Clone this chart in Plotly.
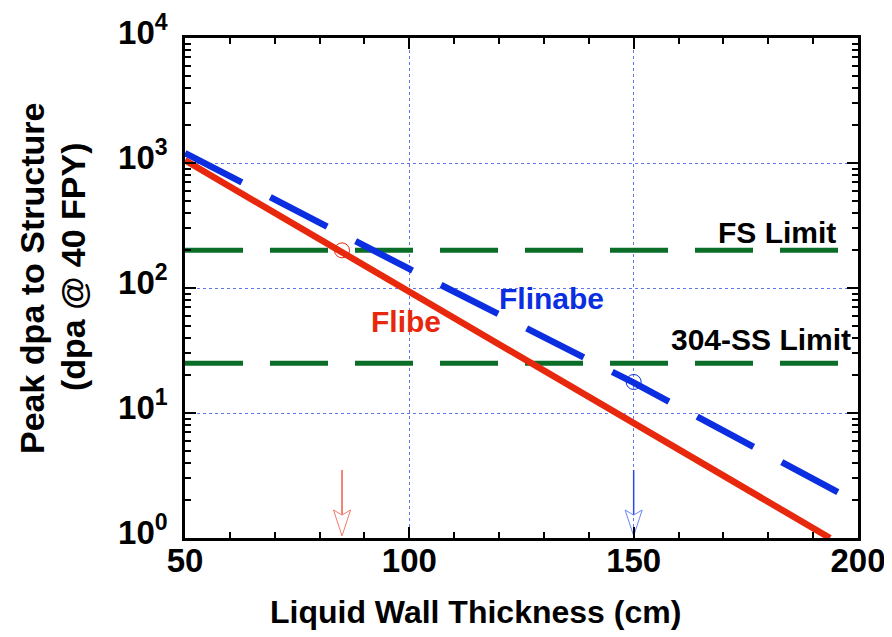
import math
import plotly.graph_objects as go

# ---- data ----
flibe_x = [50, 100, 150, 193.75]
flibe_y = [1050, 93, 8.5, 1.0]

flinabe_x = [50, 100, 150, 195.5]
flinabe_y = [1200, 142, 17.5, 2.33]

limit_x = [50, 196]
fs_limit = 200
ss_limit = 25

flibe_mark_x = 85
flibe_mark_y = 200
flinabe_mark_x = 150
flinabe_mark_y = 17.7

arrow_top = 3.5
arrow_tip = 1.04
arrow_head_top = 1.675
arrow_head_notch = 1.527
arrow_half_w = 1.9

x_ticks = [50, 100, 150, 200]
x_minor = [60, 70, 80, 90, 110, 120, 130, 140, 160, 170, 180, 190]
y_ticks = [1, 10, 100, 1000, 10000]
y_ticktext = ["10<sup>0</sup>", "10<sup>1</sup>", "10<sup>2</sup>", "10<sup>3</sup>", "10<sup>4</sup>"]
y_minor = [m * 10 ** e for e in range(0, 4) for m in range(2, 10)]

RED = "#e8280c"
BLUE = "#0a2ee0"
GREEN = "#0a6e28"
GRID = "#5f78f0"
FONT = "Liberation Sans, Arial, sans-serif"

OFF = 8  # page body margin
W, H = 892 - OFF, 637 - OFF
L, R, T, B = 177, 34, 30, 99
PW, PH = W - L - R, H - T - B

def px_x(p):  # screen pixel -> paper
    return (p - OFF - L) / PW

def px_y(p):
    return (H - B - (p - OFF)) / PH

fig = go.Figure()

# limit lines
for lv in (fs_limit, ss_limit):
    fig.add_trace(go.Scatter(x=limit_x, y=[lv, lv], mode="lines",
                             line=dict(color=GREEN, width=5, dash="58px,27px"),
                             showlegend=False, hoverinfo="skip"))

# Flinabe dashed
fig.add_trace(go.Scatter(x=flinabe_x, y=flinabe_y, mode="lines",
                         line=dict(color=BLUE, width=6.5, dash="64px,32px"),
                         showlegend=False))
# Flibe solid
fig.add_trace(go.Scatter(x=flibe_x, y=flibe_y, mode="lines",
                         line=dict(color=RED, width=6.5),
                         showlegend=False))

# circle markers
fig.add_trace(go.Scatter(x=[flibe_mark_x], y=[flibe_mark_y], mode="markers",
                         marker=dict(symbol="circle-open", size=15, color=RED, line=dict(width=1)),
                         showlegend=False))
fig.add_trace(go.Scatter(x=[flinabe_mark_x], y=[flinabe_mark_y], mode="markers",
                         marker=dict(symbol="circle-open", size=15, color=BLUE, line=dict(width=1)),
                         showlegend=False))

# arrows (shaft + open chevron head)
for ax_x, shaft_col, head_col in ((flibe_mark_x, "#f05a48", "#f07a6a"),
                                  (flinabe_mark_x, "#2a4ae8", "#6a86f8")):
    fig.add_trace(go.Scatter(x=[ax_x, ax_x], y=[arrow_top, arrow_head_notch], mode="lines",
                             line=dict(color=shaft_col, width=1.5),
                             showlegend=False, hoverinfo="skip"))
    fig.add_trace(go.Scatter(x=[ax_x - arrow_half_w, ax_x, ax_x + arrow_half_w, ax_x, ax_x - arrow_half_w],
                             y=[arrow_head_top, arrow_tip, arrow_head_top, arrow_head_notch, arrow_head_top],
                             mode="lines", line=dict(color=head_col, width=1),
                             showlegend=False, hoverinfo="skip"))

def txt(x, y, s, color, xanchor="center", size=30):
    fig.add_annotation(x=x, y=math.log10(y), xref="x", yref="y", text=s, showarrow=False,
                       xanchor=xanchor, yanchor="middle",
                       font=dict(family=FONT, size=size, color=color, weight="bold"))

txt(195.5, 280, "FS Limit", "black", xanchor="right")
txt(198.9, 38.4, "304-SS Limit", "black", xanchor="right", size=30)
txt(131.7, 83, "Flinabe", BLUE)
txt(99.3, 53.5, "Flibe", RED)

# axis titles as annotations
fig.add_annotation(x=px_x(475), y=px_y(612), xref="paper", yref="paper",
                   text="Liquid Wall Thickness (cm)", showarrow=False,
                   xanchor="center", yanchor="middle",
                   font=dict(family=FONT, size=32, color="black", weight="bold"))
fig.add_annotation(x=px_x(32), y=px_y(279), xref="paper", yref="paper",
                   text="Peak dpa to Structure", showarrow=False,
                   textangle=-90, xanchor="center", yanchor="middle",
                   font=dict(family=FONT, size=34, color="black", weight="bold"))
fig.add_annotation(x=px_x(73), y=px_y(267), xref="paper", yref="paper",
                   text="(dpa @ 40 FPY)", showarrow=False,
                   textangle=-90, xanchor="center", yanchor="middle",
                   font=dict(family=FONT, size=34, color="black", weight="bold"))

axis_common = dict(showline=True, linecolor="black", linewidth=2.5, mirror="ticks",
                   ticks="inside", ticklen=11, tickwidth=2, tickcolor="black",
                   showgrid=True, gridcolor=GRID, gridwidth=1, griddash="3px,3px",
                   zeroline=False, automargin=False,
                   tickfont=dict(family=FONT, size=33, color="black", weight="bold"))

fig.update_xaxes(range=[50, 200], tickmode="array", tickvals=x_ticks,
                 ticktext=[str(v) for v in x_ticks], ticklabelstandoff=-8,
                 minor=dict(tickmode="array", tickvals=x_minor, ticks="inside", ticklen=6,
                            tickwidth=2, tickcolor="black", showgrid=False),
                 **axis_common)
fig.update_yaxes(type="log", range=[0, 4], tickmode="array", tickvals=y_ticks,
                 ticktext=y_ticktext, ticklabelstandoff=8, ticklabelshift=-6,
                 minor=dict(tickmode="array", tickvals=y_minor, ticks="inside", ticklen=6,
                            tickwidth=2, tickcolor="black", showgrid=False),
                 **axis_common)

fig.update_layout(width=W, height=H,
                  margin=dict(l=L, r=R, t=T, b=B, autoexpand=False),
                  paper_bgcolor="white", plot_bgcolor="white",
                  showlegend=False)

fig.write_html("out.html")
